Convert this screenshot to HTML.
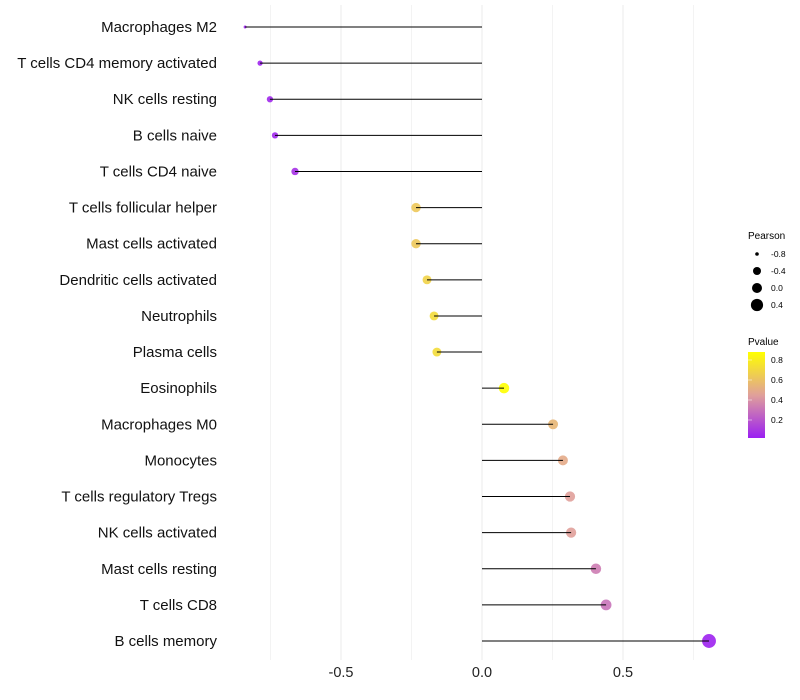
<!DOCTYPE html>
<html><head><meta charset="utf-8"><style>
body{margin:0;background:#fff;}
svg{display:block;font-family:"Liberation Sans",sans-serif;}
</style></head><body>
<svg id="c" width="800" height="700" viewBox="0 0 800 700">
<defs><linearGradient id="pg" x1="0" y1="1" x2="0" y2="0">
<stop offset="0" stop-color="#9b1ff2"/><stop offset="0.5" stop-color="#e0a09a"/><stop offset="1" stop-color="#ffff00"/></linearGradient></defs>
<g id="grid"></g><g id="marks"></g><g id="labels"></g><g id="xticks"></g>
<g>
<text x="748" y="239" font-size="10">Pearson</text>
<g id="sizeleg"></g></g>
<g>
<text x="748" y="345" font-size="10">Pvalue</text>
<rect x="748" y="352" width="17" height="86" fill="url(#pg)"/>
<g id="colleg"></g></g>
</svg>
<script>
const categories=["Macrophages M2","T cells CD4 memory activated","NK cells resting","B cells naive","T cells CD4 naive","T cells follicular helper","Mast cells activated","Dendritic cells activated","Neutrophils","Plasma cells","Eosinophils","Macrophages M0","Monocytes","T cells regulatory  Tregs ","NK cells activated","Mast cells resting","T cells CD8","B cells memory"];
const pearson=[-0.84,-0.787,-0.752,-0.734,-0.663,-0.234,-0.234,-0.195,-0.170,-0.160,0.078,0.252,0.287,0.312,0.316,0.404,0.44,0.805];
const sizeValues=[-0.8,-0.6,-0.5,-0.5,-0.4,0.0,0.0,-0.1,-0.1,-0.1,0.2,0.1,0.1,0.15,0.15,0.2,0.25,0.8];
const pvalues=[0.03,0.04,0.05,0.05,0.08,0.63,0.63,0.68,0.72,0.72,0.88,0.55,0.5,0.45,0.45,0.33,0.3,0.03];
const xTicks=[-0.5,0,0.5];
const xTickLabels=["-0.5","0.0","0.5"];
const sizeLegendValues=[-0.8,-0.4,0.0,0.4];
const sizeLegendLabels=["-0.8","-0.4","0.0","0.4"];
const colorLegendValues=[0.2,0.4,0.6,0.8];
const colorLegendLabels=["0.2","0.4","0.6","0.8"];
const NS="http://www.w3.org/2000/svg";
const xs=v=>482+v*282;
const ys=i=>27+i*(641-27)/(categories.length-1);
function rad(v){if(v<-0.4)return Math.max(1.2,1.5+(v+0.8)*5.5);if(v<0)return 3.7+(v+0.4)*2.5;return 4.7+v*2.8;}
function lerp(a,b,t){return a.map((x,i)=>Math.round(x+(b[i]-x)*t));}
function col(p){const s=[[0.02,[155,31,242]],[0.45,[224,160,154]],[0.88,[255,255,0]]];
 if(p<=s[0][0])return `rgb(${s[0][1]})`; if(p>=s[2][0])return `rgb(${s[2][1]})`;
 const k=p<s[1][0]?0:1;const t=(p-s[k][0])/(s[k+1][0]-s[k][0]);return `rgb(${lerp(s[k][1],s[k+1][1],t)})`;}
function mk(tag,at,parent){const e=document.createElementNS(NS,tag);for(const k in at)e.setAttribute(k,at[k]);document.getElementById(parent).appendChild(e);return e;}
[-0.75,-0.5,-0.25,0,0.25,0.5,0.75].forEach(v=>{const l=mk("line",{x1:xs(v),x2:xs(v),y1:5,y2:660,stroke:"#ebebeb","stroke-width":v*4%2===0?1:0.6},"grid");

});
categories.forEach((c,i)=>{
 const y=ys(i);
 const p=mk("circle",{cx:xs(pearson[i]),cy:y,r:rad(sizeValues[i]),fill:col(pvalues[i]),"fill-opacity":0.9},"marks");
 
 
 const l=mk("line",{x1:xs(0),x2:xs(pearson[i]),y1:y,y2:y,stroke:"#000","stroke-width":1},"marks");
 
 
 const t=mk("text",{x:217,y:y+5,"text-anchor":"end","font-size":15,fill:"#111"},"labels");
 t.textContent=c;
 
 
});
xTicks.forEach((v,i)=>{const t=mk("text",{x:xs(v),y:677,"text-anchor":"middle","font-size":14.5,fill:"#222"},"xticks");t.textContent=xTickLabels[i];

});
sizeLegendValues.forEach((v,i)=>{const y=254+i*17;
const c=mk("circle",{cx:757,cy:y,r:rad(v)+0.3,fill:"#000"},"sizeleg");


const t=mk("text",{x:771,y:y+3,"font-size":8.5},"sizeleg");t.textContent=sizeLegendLabels[i];

});
colorLegendValues.forEach((v,i)=>{const y=438-(v-0.02)/0.86*86;
const l=mk("line",{x1:748,x2:752,y1:y,y2:y,stroke:"#fff","stroke-opacity":0.5},"colleg");


const t=mk("text",{x:771,y:y+3,"font-size":8.5},"colleg");t.textContent=colorLegendLabels[i];

});
</script>
</body></html>
